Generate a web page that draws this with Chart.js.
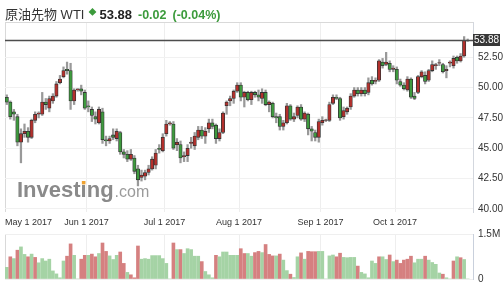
<!DOCTYPE html>
<html>
<head>
<meta charset="utf-8">
<script src="https://cdn.jsdelivr.net/npm/chart.js@4.4.1/dist/chart.umd.min.js"></script>
<style>
  html, body { margin: 0; padding: 0; background: #fff; }
  #wrap { position: relative; width: 504px; height: 293px; overflow: hidden; }
  #price { position: absolute; left: 0; top: 0; }
  #vol { position: absolute; left: 0; top: 223px; }
  #head { position: absolute; left: 5px; top: 4px; white-space: nowrap; color: #333;
          font-family: "Liberation Sans", Arial, "Noto Sans CJK JP", sans-serif; font-size: 13px; }
  #head .dot { color: #3c9b3c; font-size: 8px; position: relative; top: -4px; margin: 0 3px 0 4px; }
  #head .last { font-weight: bold; color: #222; }
  #head .chg { font-weight: bold; color: #3c9b3c; font-size: 12.5px; margin-left: 6px; }
</style>
</head>
<body>
<div id="wrap">
  <canvas id="price" width="504" height="230"></canvas>
  <canvas id="vol" width="504" height="70"></canvas>
  <div id="head"><span>原油先物 WTI</span><span class="dot">◆</span><span class="last" id="last"></span><span class="chg" id="chg"></span><span class="chg" id="pct"></span></div>
</div>
<script>
// daily candles, May 1 2017 .. Oct 30 2017 (one per weekday)
const opens = [
  49.2,48.8,48.0,47.6,45.5,46.2,46.4,45.9,47.3,47.8,
  47.8,48.8,48.3,48.9,49.3,50.4,50.9,51.5,51.4,48.9,
  49.8,49.9,49.6,48.5,48.2,47.6,47.1,48.0,45.7,45.6,
  46.1,45.8,46.3,44.7,44.5,44.1,44.2,43.3,42.6,42.7,
  43.0,43.3,43.6,45.0,44.8,46.2,47.0,47.0,45.3,45.3,
  44.3,44.4,45.4,45.2,45.9,46.5,46.0,46.6,47.1,46.9,
  45.8,46.3,48.5,48.9,49.1,49.7,50.2,49.2,49.6,49.0,
  49.6,49.4,49.1,49.6,48.6,48.7,47.6,47.6,46.8,47.1,
  48.5,47.4,47.7,48.4,47.4,47.8,46.6,46.3,45.9,47.1,
  47.3,47.3,48.7,49.2,49.1,47.6,48.0,48.4,49.3,49.8,
  49.5,49.8,49.6,50.6,50.5,50.6,52.1,51.9,52.0,51.5,
  51.5,50.5,50.2,49.8,50.7,49.3,49.6,50.9,51.0,50.6,
  51.4,51.8,52.0,51.9,51.4,52.0,51.8,52.5,52.2,52.6,
  53.9
];
const highs = [
  49.4,48.9,48.2,47.8,46.6,47.0,46.7,47.4,48.0,48.0,
  49.6,49.1,49.3,49.5,50.5,51.0,51.7,52.1,52.0,49.9,
  49.9,50.2,49.8,48.9,48.4,48.0,48.4,48.3,46.0,46.0,
  46.6,46.6,46.4,44.9,44.8,44.9,44.4,43.6,43.2,43.2,
  43.6,44.3,44.9,45.3,46.2,47.3,47.2,47.2,45.8,45.6,
  44.7,45.3,45.9,46.3,46.8,46.8,46.7,47.4,47.4,47.0,
  46.6,48.0,48.9,49.3,49.8,50.4,50.4,49.7,49.7,49.7,
  49.7,49.8,49.9,49.8,48.9,48.8,47.9,47.8,47.3,48.7,
  48.6,47.9,48.5,48.6,48.0,47.9,46.8,46.5,47.4,47.6,
  47.4,48.8,49.4,49.4,49.2,48.4,48.4,49.5,50.0,50.0,
  50.0,50.0,50.8,50.9,50.8,52.3,52.4,52.9,52.2,51.8,
  51.7,50.7,50.4,50.9,50.8,49.6,51.0,51.4,51.3,51.5,
  52.2,52.0,52.3,52.0,51.8,52.2,52.6,52.6,52.8,54.2,
  54.0
];
const lows = [
  48.6,47.4,47.3,45.2,43.8,45.9,45.5,45.8,47.1,47.5,
  47.7,48.2,48.0,48.7,49.2,50.3,50.8,51.1,48.2,48.6,
  49.7,49.4,48.2,48.0,47.2,47.0,47.0,45.4,45.2,45.4,
  45.7,45.6,44.5,44.2,43.9,44.0,42.9,41.9,42.3,42.4,
  42.8,43.2,43.3,44.6,44.7,46.0,46.9,44.9,44.8,43.8,
  43.9,43.9,45.0,44.9,45.7,45.8,45.4,46.3,46.6,45.4,
  45.6,46.2,47.8,48.5,48.7,49.6,48.9,48.4,48.9,48.6,
  49.2,48.9,48.7,48.5,48.0,47.5,47.1,46.5,46.5,47.0,
  47.3,47.2,47.5,47.3,47.2,46.1,45.6,45.6,45.5,46.9,
  47.2,47.2,48.6,49.0,47.3,47.4,47.8,48.2,49.2,49.3,
  49.3,49.3,49.4,50.2,50.3,50.5,51.6,51.8,51.3,51.3,
  50.3,50.1,49.8,49.7,49.1,49.0,49.5,50.8,50.3,50.5,
  51.3,51.5,51.8,51.2,50.8,51.7,51.6,52.0,52.1,52.5,
  53.8
];
const closes = [
  48.8,47.6,47.8,45.5,46.2,46.4,45.9,47.3,47.8,47.9,
  48.8,48.6,49.1,49.3,50.3,50.7,51.4,51.4,48.9,49.8,
  49.9,49.7,48.3,48.4,47.7,47.4,48.2,45.7,45.6,45.8,
  45.9,46.4,44.7,44.5,44.1,44.5,43.1,42.4,42.8,43.0,
  43.3,44.1,44.6,44.9,45.9,47.0,47.1,45.0,45.5,44.2,
  44.4,45.0,45.5,46.0,46.5,46.0,46.4,47.1,46.8,45.8,
  46.3,47.9,48.8,49.1,49.7,50.2,49.2,49.6,49.0,49.6,
  49.4,49.2,49.6,48.6,48.8,47.6,47.5,46.8,47.1,48.5,
  47.4,47.6,48.4,47.4,47.9,46.6,46.4,45.9,47.2,47.3,
  47.35,48.6,49.2,49.1,47.5,48.1,48.3,49.3,49.8,49.5,
  49.8,49.5,50.4,50.3,50.6,52.2,51.8,52.1,51.5,51.6,
  50.6,50.2,49.9,50.7,49.2,49.1,50.9,51.3,50.5,51.4,
  51.9,51.9,52.05,51.3,51.5,52.1,52.4,52.2,52.6,53.9,
  53.88
];
// volume in thousands of contracts
const volumes = [
  390,740,680,960,1070,820,740,830,720,540,
  680,600,660,270,170,40,600,760,1170,790,
  0,660,790,790,830,740,850,1200,920,770,
  650,790,900,520,220,140,40,1100,660,680,
  660,780,780,780,680,520,0,1200,980,980,
  850,1010,980,760,760,580,250,140,40,790,
  740,900,900,790,790,790,1010,850,850,760,
  880,920,880,1150,820,770,770,830,630,280,
  160,50,740,870,660,920,910,910,920,920,
  0,770,800,740,860,720,710,720,720,430,
  220,170,40,600,520,740,740,650,800,580,
  630,520,630,660,760,540,660,660,760,630,
  550,490,200,160,40,0,600,740,710,650,
  0
];
// 1 = red volume bar, -1 = green volume bar
const volDir = [
  -1,1,-1,1,-1,-1,1,-1,1,-1,
  -1,-1,-1,-1,-1,-1,-1,1,1,-1,
  -1,1,1,-1,1,1,-1,1,1,-1,
  -1,-1,1,1,-1,1,1,1,-1,-1,
  -1,-1,-1,-1,-1,-1,-1,1,-1,1,
  -1,-1,-1,-1,-1,1,-1,-1,-1,1,
  -1,-1,-1,-1,-1,-1,1,1,-1,-1,
  1,1,-1,1,1,1,-1,1,-1,-1,
  1,-1,-1,1,-1,1,1,1,-1,-1,
  -1,-1,-1,1,1,-1,-1,-1,-1,1,
  -1,-1,-1,-1,-1,1,-1,-1,1,-1,
  1,1,1,1,1,-1,-1,-1,1,-1,
  -1,-1,-1,1,-1,-1,1,-1,1,-1,
  -1
];
const monthLabels = ['May 1 2017', 'Jun 1 2017', 'Jul 1 2017', 'Aug 1 2017', 'Sep 1 2017', 'Oct 1 2017'];
const monthStart = [0, 23, 45, 66, 89, 110];
const priceTicks = [40, 42.5, 45, 47.5, 50, 52.5];
const volTicks = [0, 1500000];
const volTickLabels = ['0', '1.5M'];

const RED = '#b3302c', GREEN = '#3e9a3e';
const VRED = '#d58080', VGREEN = '#a5d3a5';
const FONT = '"Liberation Sans", Arial, sans-serif';
const n = closes.length;
const xMin = -0.5, xMax = n + 0.5;

// header
const last = closes[n - 1], prev = closes[n - 2];
const chg = last - prev;
document.getElementById('last').textContent = last.toFixed(2);
document.getElementById('chg').textContent = (chg >= 0 ? '+' : '') + chg.toFixed(2);
document.getElementById('pct').textContent = '(' + (chg >= 0 ? '+' : '') + (chg / prev * 100).toFixed(2) + '%)';

function xScale(showLabels, h) {
  return {
    type: 'linear', min: xMin, max: xMax, offset: false,
    afterBuildTicks: (s) => { s.ticks = monthStart.map((i) => ({ value: i - 0.5 })).concat([{ value: xMax }]); },
    afterFit: (s) => { s.height = h; },
    grid: {
      offset: false, drawTicks: false,
      color: (c) => (!c.tick || c.tick.value === xMax) ? 'rgba(0,0,0,0)' : (c.tick.value === xMin ? '#d9d9d9' : '#eeeeee'),
    },
    border: { display: false },
    ticks: {
      display: showLabels, autoSkip: false, maxRotation: 0, minRotation: 0, align: 'inner', padding: 5,
      color: '#333', font: { family: FONT, size: 9 },
      callback: (v) => { const k = monthStart.indexOf(v + 0.5); return k >= 0 ? monthLabels[k] : ''; },
    },
  };
}

const priceDecor = {
  id: 'priceDecor',
  beforeDatasetsDraw(chart) {
    const { ctx, chartArea: a } = chart;
    ctx.save();
    ctx.strokeStyle = '#d9d9d9'; ctx.lineWidth = 1;
    ctx.beginPath(); ctx.moveTo(a.left, a.top + 0.5); ctx.lineTo(a.right, a.top + 0.5); ctx.stroke();
    // watermark
    const wx = a.left + 12, wy = a.bottom - 15;
    ctx.font = 'bold 22px ' + FONT;
    ctx.fillStyle = '#8a8a8a';
    ctx.fillText('Investing', wx, wy);
    const w = ctx.measureText('Investing').width;
    const iw = ctx.measureText('Invest').width, iiw = ctx.measureText('i').width;
    ctx.fillStyle = '#f0a330';
    ctx.fillRect(wx + iw + iiw / 2 - 1.8, wy - 16, 3.6, 3.4);
    ctx.font = '16px ' + FONT;
    ctx.fillStyle = '#9b9b9b';
    ctx.fillText('.com', wx + w + 1, wy);
    ctx.restore();
  },
  afterDatasetsDraw(chart) {
    const { ctx, chartArea: a, scales: { y } } = chart;
    const py = Math.round(y.getPixelForValue(last)) + 0.5;
    ctx.save();
    ctx.strokeStyle = '#4d4d4d'; ctx.lineWidth = 1.5;
    ctx.beginPath(); ctx.moveTo(a.left, py); ctx.lineTo(a.right, py); ctx.stroke();
    ctx.fillStyle = '#383838';
    ctx.fillRect(a.right, py - 6.5, 27, 12);
    ctx.fillStyle = '#fff'; ctx.font = '10px ' + FONT;
    ctx.textAlign = 'center'; ctx.textBaseline = 'middle';
    ctx.fillText(last.toFixed(2), a.right + 13.5, py);
    ctx.restore();
  },
};

new Chart(document.getElementById('price'), {
  type: 'bar',
  data: {
    datasets: [
      {
        label: 'body', order: 0, stack: 'c',
        data: opens.map((o, i) => ({ x: i, y: [Math.min(o, closes[i]), Math.max(o, closes[i])] })),
        backgroundColor: closes.map((c, i) => (c > opens[i] ? RED : GREEN)),
        borderColor: '#333', borderWidth: 0.8, borderSkipped: false, barThickness: 3.4,
      },
      {
        label: 'wick', order: 1, stack: 'c',
        data: lows.map((l, i) => ({ x: i, y: [l, highs[i]] })),
        backgroundColor: '#999', borderWidth: 0, barThickness: 1.6,
      },
    ],
  },
  options: {
    responsive: false, animation: false,
    layout: { padding: { top: 22, left: 5, right: 0, bottom: 0 } },
    plugins: { legend: { display: false }, tooltip: { enabled: false } },
    scales: {
      x: xScale(true, 18),
      y: {
        position: 'right', min: 39.75, max: 55.4, stacked: false,
        afterBuildTicks: (s) => { s.ticks = priceTicks.map((v) => ({ value: v })); },
        afterFit: (s) => { s.width = 31; },
        grid: { color: '#f1f1f1', drawTicks: false },
        border: { color: '#d3d7de' },
        ticks: { padding: 5, color: '#333', font: { family: FONT, size: 10 }, callback: (v) => v.toFixed(2) },
      },
    },
  },
  plugins: [priceDecor],
});

new Chart(document.getElementById('vol'), {
  type: 'bar',
  data: {
    datasets: [{
      label: 'volume',
      data: volumes.map((v, i) => ({ x: i, y: v * 1000 })),
      backgroundColor: volDir.map((d) => (d > 0 ? VRED : VGREEN)),
      borderWidth: 0, barThickness: 3,
    }],
  },
  options: {
    responsive: false, animation: false,
    layout: { padding: { top: 0, left: 5, right: 0, bottom: 0 } },
    plugins: { legend: { display: false }, tooltip: { enabled: false } },
    scales: {
      x: xScale(false, 14),
      y: {
        position: 'right', min: 0, max: 1500000,
        afterBuildTicks: (s) => { s.ticks = volTicks.map((v) => ({ value: v })); },
        afterFit: (s) => { s.width = 31; },
        grid: { color: '#efefef', drawTicks: false },
        border: { color: '#c9d0dc' },
        ticks: { padding: 5, color: '#333', font: { family: FONT, size: 10 }, callback: (v) => volTickLabels[volTicks.indexOf(v)] },
      },
    },
  },
});
</script>
</body>
</html>
